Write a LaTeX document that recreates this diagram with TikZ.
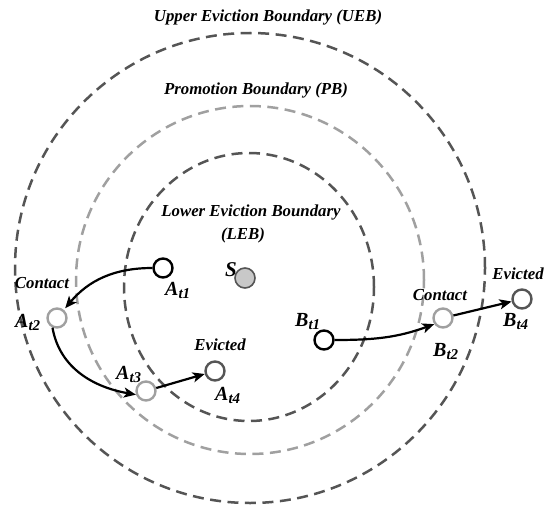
\documentclass[tikz,border=0pt]{standalone}
\usepackage{fontspec}
\setmainfont{Liberation Serif}
\usetikzlibrary{arrows.meta}
\definecolor{dk}{HTML}{555555}
\definecolor{lt}{HTML}{A0A0A0}
\definecolor{sfill}{HTML}{C8C8C8}
\newcommand{\nlab}[2]{\fontsize{20}{22}\selectfont\bfseries\itshape #1\raisebox{-0.35ex}{\fontsize{15}{15}\selectfont #2}}
\begin{document}
\begin{tikzpicture}[x=1pt,y=1pt,
 bnd/.style={line width=2.5pt,dash pattern=on 11pt off 6.5pt},
 txt/.style={font=\fontsize{16.8}{19}\selectfont\bfseries\itshape, inner sep=0pt, anchor=base},
 lbl/.style={inner sep=0pt, anchor=base west},
 pt/.style={circle,draw,line width=2.4pt,fill=white,minimum size=19pt,inner sep=0pt},
 arr/.style={line width=2.2pt,-{Stealth[length=12pt,width=10pt,inset=3pt]}}
]
\useasboundingbox (0,0) rectangle (554,-508);
\draw[bnd,dk] (250,-268) circle[radius=235];
\draw[bnd,lt] (250,-280) circle[radius=174];
\draw[bnd,dk] (249,-287) ellipse[x radius=125,y radius=134];

\node[txt] (ueb) at (268,-21.5) {Upper Eviction Boundary (UEB)};
\node[txt] (pb) at (256,-95) {Promotion Boundary (PB)};
\node[txt] (leb1) at (251,-216.5) {Lower Eviction Boundary};
\node[txt] (leb2) at (243,-239) {(LEB)};
\node[txt] (cA) at (42,-288) {Contact};
\node[txt] (cB) at (440,-300) {Contact};
\node[txt] (eA) at (220,-350.5) {Evicted};
\node[txt] (eB) at (518,-279) {Evicted};

\node[pt,draw=black] (A1) at (163,-268) {};
\node[pt,draw=lt] (A2) at (57,-318) {};
\node[pt,draw=lt] (A3) at (146,-391) {};
\node[pt,draw=dk] (A4) at (215,-371) {};
\node[pt,draw=black] (B1) at (324,-340) {};
\node[pt,draw=lt] (B2) at (443,-318) {};
\node[pt,draw=dk] (B4) at (522,-299) {};
\node[pt,draw=dk,fill=sfill,minimum size=20pt,line width=1.6pt] (S) at (245,-278) {};

\node[lbl] (lA1) at (165,-295) {\nlab{A}{t1}};
\node[lbl] (lA2) at (15,-327) {\nlab{A}{t2}};
\node[lbl] (lA3) at (116,-379) {\nlab{A}{t3}};
\node[lbl] (lA4) at (215,-400) {\nlab{A}{t4}};
\node[lbl] (lB1) at (295,-326.7) {\nlab{B}{t1}};
\node[lbl] (lB2) at (433,-356.7) {\nlab{B}{t2}};
\node[lbl] (lB4) at (503,-326.7) {\nlab{B}{t4}};
\node[lbl] (lS) at (225,-276) {\fontsize{21}{22}\selectfont\bfseries\itshape S};

\draw[arr,shorten >=2pt] (A1.west) to[out=180,in=50] (A2.50);
\draw[arr] (A2.245) to[out=-80,in=170] (A3.200);
\draw[arr] (A3) -- (A4);
\draw[arr] (B1.east) to[out=0,in=200] (B2.215);
\draw[arr] (B2) -- (B4);
\end{tikzpicture}
\end{document}
